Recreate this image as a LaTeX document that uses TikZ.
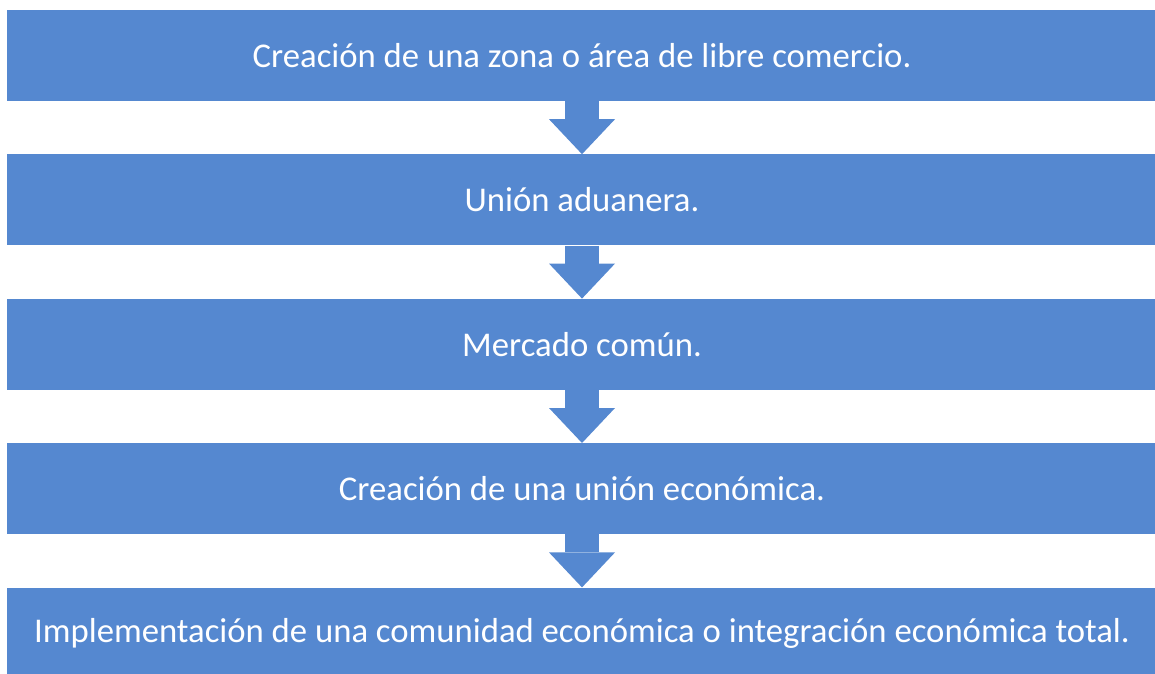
\documentclass[tikz,border=0pt]{standalone}
\usepackage{fontspec}
\setmainfont{Carlito}
\usetikzlibrary{arrows.meta,positioning}
\definecolor{stepblue}{RGB}{85,136,208}
\tikzstyle{stage}=[rectangle,fill=stepblue,text=white,inner sep=0pt,minimum width=1150pt,minimum height=91pt,font=\fontsize{34.7}{41}\selectfont]
\tikzstyle{down}=[draw=stepblue,line width=34pt,-{Triangle[width=66pt,length=35pt,line width=0pt]}]

\begin{document}
\begin{tikzpicture}

\useasboundingbox (0,0) rectangle (1155pt,673pt) ;

\node (fta) [stage] at (582pt,617.5pt) {Creación de una zona o área de libre comercio.} ;
\node (cu) [stage,below=53pt of fta] {Unión aduanera.} ;
\node (cm) [stage,below=53pt of cu] {Mercado común.} ;
\node (eu) [stage,below=53pt of cm] {Creación de una unión económica.} ;
\node (total) [stage,below=53pt of eu] {Implementación de una comunidad económica o integración económica total.} ;

\draw [down] (fta) -- (cu.north) ;
\draw [down] (cu) -- (cm.north) ;
\draw [down] (cm) -- (eu.north) ;
\draw [down] (eu) -- (total.north) ;

\end{tikzpicture}
\end{document}
